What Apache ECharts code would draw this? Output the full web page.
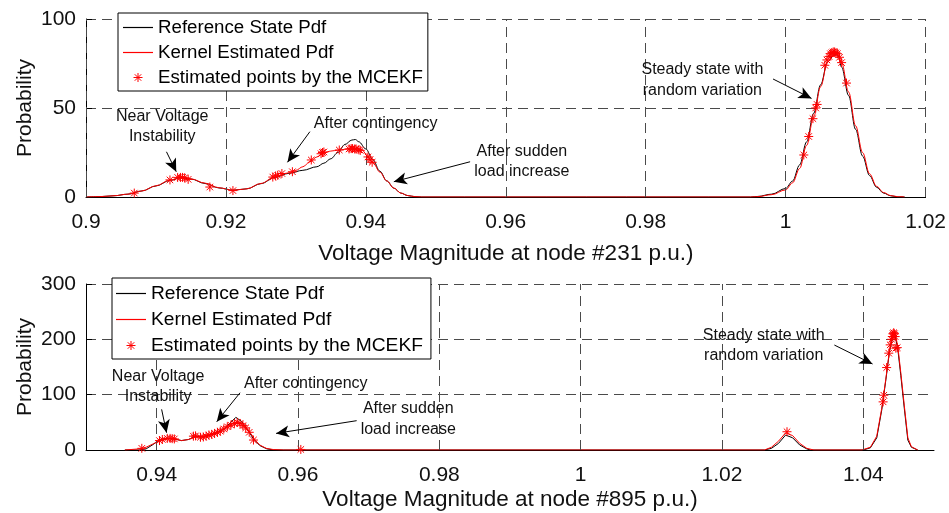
<!DOCTYPE html>
<html>
<head>
<meta charset="utf-8">
<script src="https://cdn.jsdelivr.net/npm/echarts@6/dist/echarts.min.js"></script>
<style>
  html, body { margin: 0; padding: 0; background: #fff; }
  #chart { width: 949px; height: 513px; }
</style>
</head>
<body>
<div id="chart"></div>
<script>
// ---------- Node #231 ----------
const n231Ticks = [0.9, 0.92, 0.94, 0.96, 0.98, 1, 1.02];
const n231ProbTicks = [0, 50, 100];
const n231Reference = [
  [0.900, 0], [0.902, 0.2], [0.904, 0.7], [0.906, 1.6], [0.908, 3.4], [0.910, 6.2],
  [0.912, 9.3], [0.9135, 10.8], [0.915, 10.1], [0.917, 7.6], [0.919, 5.1], [0.921, 3.8],
  [0.923, 4.6], [0.925, 7.5], [0.927, 11], [0.929, 13.3], [0.931, 15], [0.933, 17],
  [0.934, 19], [0.935, 21.5], [0.936, 25], [0.937, 29.5], [0.938, 32], [0.9385, 32.3],
  [0.939, 31], [0.940, 27], [0.941, 21], [0.942, 14.5], [0.943, 9], [0.944, 5],
  [0.945, 2.2], [0.946, 0.8], [0.947, 0.2], [0.948, 0], [0.995, 0], [0.996, 0.3],
  [0.998, 1.6], [1.000, 4.8], [1.001, 9], [1.002, 18], [1.003, 31], [1.004, 47],
  [1.005, 63], [1.006, 76], [1.007, 80], [1.0075, 79.5], [1.008, 73], [1.009, 57],
  [1.010, 38], [1.011, 23], [1.012, 12], [1.013, 5.5], [1.014, 2.2], [1.015, 0.7],
  [1.016, 0.1], [1.017, 0]
];
const n231Kernel = [
  [0.900, 0], [0.902, 0.2], [0.904, 0.7], [0.906, 1.6], [0.908, 3.4], [0.910, 6.3],
  [0.912, 9.5], [0.9135, 11], [0.915, 10.2], [0.917, 7.8], [0.919, 5.2], [0.921, 3.8],
  [0.923, 4.6], [0.925, 7.6], [0.927, 11.4], [0.929, 13.6], [0.930, 15], [0.931, 17],
  [0.932, 19.8], [0.933, 22.5], [0.934, 24.8], [0.935, 25.8], [0.936, 26.3], [0.937, 26.8],
  [0.938, 27.1], [0.939, 27], [0.9395, 26.3], [0.940, 24.3], [0.941, 19.5], [0.942, 14],
  [0.943, 9], [0.944, 5], [0.945, 2.2], [0.946, 0.8], [0.947, 0.2], [0.948, 0],
  [0.995, 0], [0.996, 0.2], [0.998, 1.3], [1.000, 4], [1.001, 8], [1.002, 16],
  [1.003, 29], [1.004, 45], [1.005, 62], [1.006, 76], [1.007, 81], [1.0075, 81],
  [1.008, 75.5], [1.009, 59], [1.010, 40], [1.011, 25], [1.012, 13], [1.013, 6],
  [1.014, 2.5], [1.015, 0.8], [1.016, 0.2], [1.017, 0]
];
const n231Points = [
  [0.9069, 2.2], [0.912, 9.6], [0.9131, 11], [0.9135, 11], [0.9138, 11], [0.9141, 10.8],
  [0.9146, 9.9], [0.9177, 5.6], [0.921, 3.6],
  [0.9267, 11.2], [0.9271, 11.8], [0.9274, 12.2], [0.928, 13.2], [0.9295, 14.2],
  [0.9322, 20.8], [0.9336, 24.3], [0.9338, 25], [0.934, 25.3], [0.9362, 26.4],
  [0.9376, 27], [0.9379, 27.2], [0.9381, 27.2], [0.9384, 27], [0.9386, 27], [0.939, 26.5],
  [0.9392, 26.2], [0.9403, 22.5], [0.9406, 21], [0.9409, 19.5],
  [1.0026, 23.6], [1.0033, 34], [1.0039, 44], [1.0043, 50], [1.0045, 52], [1.0056, 74],
  [1.0059, 77], [1.0062, 79], [1.0064, 80.5], [1.0066, 81], [1.0068, 81.5], [1.007, 81.5],
  [1.0072, 81], [1.0074, 80.5], [1.0077, 78.5], [1.008, 75.5], [1.0087, 64]
];
const n231Notes = [
  [0.9109, 39.6, 'Near Voltage\nInstability'],
  [0.9414, 41.3, 'After contingency'],
  [0.9623, 19.9, 'After sudden\nload increase'],
  [0.9881, 65.7, 'Steady state with\nrandom variation']
];
const n231Arrows = [
  [[0.9115, 25.4], [0.9129, 14.2]],
  [[0.9320, 36.7], [0.9288, 19.5]],
  [[0.9549, 19.8], [0.9440, 8.6]],
  [[0.9982, 66.3], [1.0037, 55.4]]
];

// ---------- Node #895 ----------
const n895Ticks = [0.94, 0.96, 0.98, 1, 1.02, 1.04];
const n895ProbTicks = [0, 100, 200, 300];
const n895Reference = [
  [0.9355, 0], [0.9375, 0], [0.9385, 2], [0.9395, 10], [0.9405, 19], [0.9415, 21],
  [0.9425, 20], [0.9435, 17], [0.9445, 19], [0.9455, 25], [0.9465, 24], [0.9475, 27],
  [0.9485, 31], [0.9495, 38], [0.9505, 50], [0.9512, 59], [0.952, 52], [0.9528, 38],
  [0.9537, 20], [0.9546, 8], [0.9556, 2], [0.9565, 0.3], [0.958, 0],
  [1.026, 0], [1.027, 3], [1.028, 12], [1.029, 27], [1.0292, 29], [1.030, 22],
  [1.031, 9], [1.032, 2], [1.0325, 0],
  [1.040, 0], [1.041, 4], [1.0419, 22], [1.0426, 72], [1.0432, 128], [1.0437, 178],
  [1.0442, 205], [1.0445, 207], [1.0449, 180], [1.0453, 135], [1.0458, 75], [1.0463, 18],
  [1.0468, 5], [1.0477, 0]
];
const n895Kernel = [
  [0.9355, 0], [0.9375, 2], [0.9385, 5], [0.9395, 11], [0.9405, 18], [0.9415, 21],
  [0.9425, 20], [0.9435, 17], [0.9445, 19], [0.9455, 24], [0.9465, 24], [0.9475, 28],
  [0.9485, 32], [0.9495, 38], [0.9505, 46], [0.9515, 51], [0.9522, 47], [0.953, 36],
  [0.9538, 20], [0.9546, 9], [0.9555, 3], [0.9565, 0.8], [0.958, 0],
  [1.026, 0], [1.027, 5], [1.028, 16], [1.029, 31], [1.0292, 33], [1.030, 26],
  [1.031, 12], [1.032, 3], [1.033, 0],
  [1.0398, 0], [1.041, 5], [1.0419, 25], [1.0426, 75], [1.0432, 130], [1.0437, 180],
  [1.0441, 210], [1.0445, 212], [1.0449, 185], [1.0453, 140], [1.0458, 80], [1.0463, 22],
  [1.0468, 6], [1.0477, 0]
];
const n895Points = [
  [0.9379, 3], [0.9404, 17], [0.9408, 19], [0.9415, 21], [0.9419, 21], [0.9422, 20.5],
  [0.9425, 20], [0.9452, 25], [0.9455, 25.5], [0.9462, 23], [0.9466, 23.5], [0.947, 25],
  [0.9474, 27], [0.9478, 28], [0.9482, 30], [0.9486, 32], [0.949, 34], [0.9495, 38],
  [0.95, 42], [0.9505, 45], [0.951, 48], [0.9514, 50], [0.9518, 48], [0.9522, 44],
  [0.9526, 40], [0.9531, 32], [0.9537, 18], [0.9604, 1],
  [1.0292, 33],
  [1.0428, 87], [1.0429, 99], [1.0433, 149], [1.0436, 175], [1.0438, 190], [1.044, 200],
  [1.0441, 205], [1.0442, 210], [1.0443, 212], [1.0444, 210], [1.0445, 205], [1.0446, 184],
  [1.0448, 185]
];
const n895Notes = [
  [0.9402, 114.7, 'Near Voltage\nInstability'],
  [0.9611, 120.5, 'After contingency'],
  [0.9756, 56, 'After sudden\nload increase'],
  [1.0259, 188.5, 'Steady state with\nrandom variation']
];
const n895Arrows = [
  [[0.9407, 73.5], [0.9414, 31.3]],
  [[0.9518, 103.5], [0.9485, 51.1]],
  [[0.9683, 53], [0.9569, 30]],
  [[1.0359, 189.7], [1.0413, 155.4]]
];

const seriesNames = ['Reference State Pdf', 'Kernel Estimated Pdf', 'Estimated points by the MCEKF'];

// ---------- styling ----------
const FONT = 'Liberation Sans, Arial, Helvetica, sans-serif';
const TXT = '#111111';
const GRID_LINE = { color: '#4a4a4a', width: 1, type: [10, 6] };
const STAR = 'path://M0,-5L0,5M-5,0L5,0M-3.6,-3.6L3.6,3.6M-3.6,3.6L3.6,-3.6';
const LINE_ICON = 'path://M0,0L30,0L30,1.2L0,1.2Z';
const REF_COLOR = '#000000';
const KERNEL_COLOR = '#ff0000';
const starStyle = () => ({ color: 'transparent', borderColor: KERNEL_COLOR, borderWidth: 1, opacity: 1 });

const fmtTick = v => String(Math.round(v * 1000) / 1000);

function xAxisOf(gridIndex, min, max, ticks, title, nameGap, labelMargin) {
  return {
    gridIndex, type: 'value', min, max,
    name: title, nameLocation: 'middle', nameGap, nameMoveOverlap: false,
    nameTextStyle: { fontFamily: FONT, fontSize: 22.5, color: TXT },
    axisLine: { show: true, onZero: false, lineStyle: { color: '#000', width: 1 } },
    axisTick: { show: true, inside: true, length: 6, customValues: ticks, lineStyle: { color: '#000' } },
    axisLabel: { customValues: ticks, margin: labelMargin, fontFamily: FONT, fontSize: 21, color: TXT, formatter: fmtTick },
    splitLine: { show: false }
  };
}
function yAxisOf(gridIndex, ticks) {
  return {
    gridIndex, type: 'value', min: ticks[0], max: ticks[ticks.length - 1],
    interval: ticks[1] - ticks[0],
    name: 'Probability', nameLocation: 'middle', nameGap: 50, nameRotate: 90, nameMoveOverlap: false,
    nameTextStyle: { fontFamily: FONT, fontSize: 21, color: TXT },
    axisLine: { show: true, onZero: false, lineStyle: { color: '#000', width: 1 } },
    axisTick: { show: true, inside: true, length: 6, lineStyle: { color: '#000' } },
    axisLabel: { margin: 10, fontFamily: FONT, fontSize: 21, color: TXT },
    splitLine: { show: true, lineStyle: GRID_LINE }
  };
}

function panelSeries(idx, ref, kernel, points, notes, arrows, ticks, smooth) {
  return [
    { // vertical dashed grid lines at the labelled voltages
      type: 'line', xAxisIndex: idx, yAxisIndex: idx, data: [], z: 1, silent: true,
      markLine: {
        silent: true, symbol: 'none', label: { show: false }, animation: false,
        lineStyle: GRID_LINE, data: ticks.map(v => ({ xAxis: v }))
      }
    },
    {
      name: seriesNames[0], type: 'line', xAxisIndex: idx, yAxisIndex: idx, data: ref,
      symbol: 'none', smooth: smooth, smoothMonotone: 'x', z: 3,
      color: REF_COLOR, lineStyle: { color: REF_COLOR, width: 1 }, itemStyle: { color: REF_COLOR }
    },
    {
      name: seriesNames[1], type: 'line', xAxisIndex: idx, yAxisIndex: idx, data: kernel,
      symbol: 'none', smooth: smooth, smoothMonotone: 'x', z: 4,
      color: KERNEL_COLOR, lineStyle: { color: KERNEL_COLOR, width: 1 }, itemStyle: { color: KERNEL_COLOR }
    },
    {
      name: seriesNames[2], type: 'scatter', xAxisIndex: idx, yAxisIndex: idx, data: points,
      symbol: STAR, symbolSize: 9, z: 5, color: KERNEL_COLOR, itemStyle: starStyle()
    },
    { // annotation texts and their arrows
      type: 'scatter', xAxisIndex: idx, yAxisIndex: idx, silent: true, z: 6,
      data: notes, symbolSize: 1, itemStyle: { color: 'transparent', opacity: 1 },
      label: {
        show: true, position: 'inside', formatter: p => p.value[2],
        fontFamily: FONT, fontSize: 16, lineHeight: 20.5, color: TXT, align: 'center', opacity: 1
      },
      markLine: {
        silent: true, animation: false, symbol: ['none', 'arrow'], symbolSize: [9, 13],
        label: { show: false },
        lineStyle: { color: '#000', width: 1, type: 'solid', opacity: 1 },
        data: arrows.map(a => [{ coord: a[0] }, { coord: a[1] }])
      }
    }
  ];
}

function legendOf(left, top, padding, itemGap, fontSize) {
  return {
    orient: 'vertical', left, top, padding, itemGap,
    itemWidth: 30, itemHeight: 9,
    backgroundColor: '#ffffff', borderColor: '#000000', borderWidth: 1, borderRadius: 0,
    textStyle: { fontFamily: FONT, fontSize, color: '#000' },
    selectedMode: false, z: 20,
    data: [
      { name: seriesNames[0], icon: LINE_ICON, itemStyle: { color: REF_COLOR, borderWidth: 0, opacity: 1 } },
      { name: seriesNames[1], icon: LINE_ICON, itemStyle: { color: KERNEL_COLOR, borderWidth: 0, opacity: 1 } },
      { name: seriesNames[2], icon: STAR, itemStyle: starStyle() }
    ]
  };
}

const chart = echarts.init(document.getElementById('chart'), null, { renderer: 'canvas' });
chart.setOption({
  backgroundColor: '#ffffff',
  animation: false,
  grid: [
    { left: 86, top: 19, width: 840, height: 178, containLabel: false },
    { left: 86, top: 284, width: 848, height: 166, containLabel: false }
  ],
  xAxis: [
    xAxisOf(0, 0.9, 1.02, n231Ticks, 'Voltage Magnitude at node #231 p.u.)', 45, 15),
    xAxisOf(1, 0.93, 1.05, n895Ticks, 'Voltage Magnitude at node #895 p.u.)', 38, 15)
  ],
  yAxis: [yAxisOf(0, n231ProbTicks), yAxisOf(1, n895ProbTicks)],
  legend: [
    legendOf(118, 13, [5, 5, 4, 5], 6, 18.7),
    legendOf(112, 278, [6, 8, 4, 4], 7, 19.2)
  ],
  series: [
    ...panelSeries(0, n231Reference, n231Kernel, n231Points, n231Notes, n231Arrows, n231Ticks, 0.35),
    ...panelSeries(1, n895Reference, n895Kernel, n895Points, n895Notes, n895Arrows, n895Ticks, false)
  ]
});
</script>
</body>
</html>
